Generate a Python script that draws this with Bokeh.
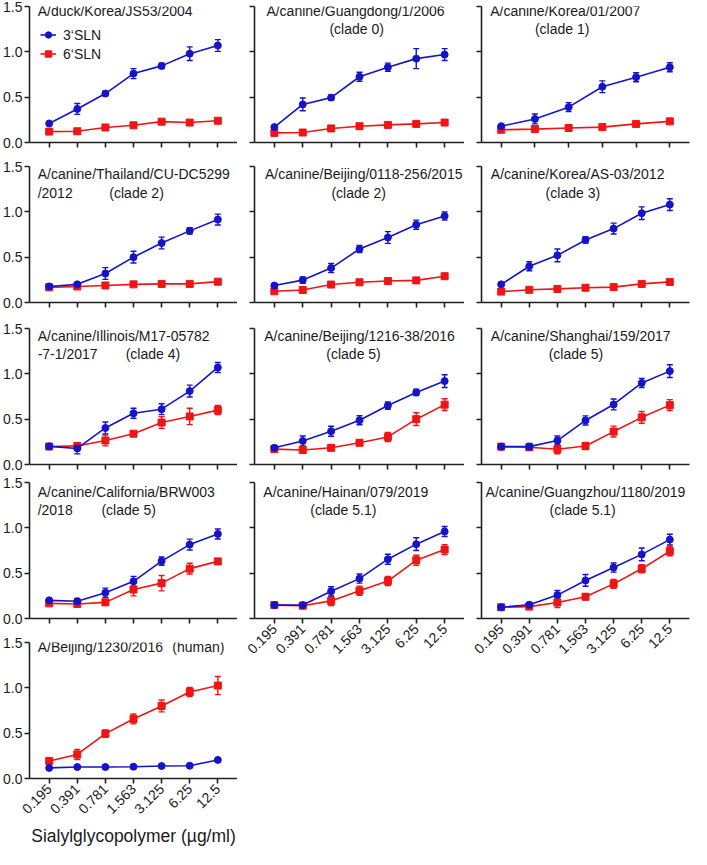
import numpy as np
from bokeh.plotting import figure
from bokeh.models import (ColumnDataSource, Whisker, TeeHead, Label, Legend,
                          LegendItem, FixedTicker, Range1d, NumeralTickFormatter)
from bokeh.layouts import row, column
from bokeh.embed import file_html
from bokeh.resources import INLINE

# ---------------- data ----------------
concentrations = ["0.195", "0.391", "0.781", "1.563", "3.125", "6.25", "12.5"]
series_names = ["3\u2018SLN", "6\u2018SLN"]
x_axis_title = "Sialylglycopolymer (\u00b5g/ml)"

duck_3 = [0.21, 0.37, 0.54, 0.76, 0.845, 0.98, 1.07]
duck_3_err = [0.015, 0.06, 0.025, 0.055, 0.03, 0.075, 0.065]
duck_6 = [0.12, 0.124, 0.166, 0.19, 0.23, 0.22, 0.24]
duck_6_err = [0.012, 0.012, 0.012, 0.012, 0.015, 0.015, 0.02]

guangdong_3 = [0.17, 0.42, 0.495, 0.725, 0.83, 0.925, 0.97]
guangdong_3_err = [0.015, 0.07, 0.03, 0.05, 0.045, 0.11, 0.065]
guangdong_6 = [0.106, 0.11, 0.155, 0.18, 0.194, 0.205, 0.22]
guangdong_6_err = [0.01, 0.01, 0.01, 0.01, 0.01, 0.01, 0.012]

korea01_3 = [0.18, 0.26, 0.39, 0.615, 0.72, 0.83]
korea01_3_err = [0.015, 0.055, 0.05, 0.065, 0.05, 0.05]
korea01_6 = [0.14, 0.148, 0.16, 0.17, 0.205, 0.233]
korea01_6_err = [0.01, 0.01, 0.01, 0.01, 0.01, 0.012]

thailand_3 = [0.177, 0.2, 0.32, 0.50, 0.656, 0.79, 0.915]
thailand_3_err = [0.012, 0.012, 0.065, 0.065, 0.065, 0.035, 0.06]
thailand_6 = [0.167, 0.177, 0.188, 0.2, 0.205, 0.205, 0.23]
thailand_6_err = [0.01, 0.01, 0.01, 0.01, 0.01, 0.01, 0.012]

beijing0118_3 = [0.187, 0.247, 0.38, 0.59, 0.717, 0.858, 0.954]
beijing0118_3_err = [0.015, 0.035, 0.05, 0.04, 0.065, 0.05, 0.045]
beijing0118_6 = [0.124, 0.138, 0.198, 0.223, 0.237, 0.244, 0.29]
beijing0118_6_err = [0.01, 0.01, 0.01, 0.01, 0.01, 0.01, 0.012]

koreaAS03_3 = [0.2, 0.4, 0.52, 0.69, 0.815, 0.985, 1.08]
koreaAS03_3_err = [0.012, 0.05, 0.07, 0.035, 0.06, 0.07, 0.065]
koreaAS03_6 = [0.12, 0.14, 0.15, 0.163, 0.17, 0.205, 0.227]
koreaAS03_6_err = [0.01, 0.01, 0.01, 0.01, 0.01, 0.012, 0.012]

illinois_3 = [0.2, 0.177, 0.403, 0.565, 0.61, 0.81, 1.07]
illinois_3_err = [0.012, 0.06, 0.065, 0.055, 0.06, 0.065, 0.055]
illinois_6 = [0.198, 0.205, 0.265, 0.34, 0.463, 0.53, 0.6]
illinois_6_err = [0.02, 0.03, 0.06, 0.025, 0.065, 0.09, 0.05]

beijing1216_3 = [0.184, 0.26, 0.367, 0.488, 0.65, 0.795, 0.92]
beijing1216_3_err = [0.015, 0.055, 0.055, 0.05, 0.04, 0.035, 0.07]
beijing1216_6 = [0.17, 0.16, 0.184, 0.24, 0.304, 0.5, 0.66]
beijing1216_6_err = [0.015, 0.035, 0.025, 0.03, 0.05, 0.07, 0.065]

shanghai_3 = [0.197, 0.197, 0.264, 0.486, 0.662, 0.9, 1.03]
shanghai_3_err = [0.012, 0.035, 0.05, 0.05, 0.06, 0.05, 0.07]
shanghai_6 = [0.197, 0.19, 0.169, 0.204, 0.363, 0.52, 0.655]
shanghai_6_err = [0.015, 0.03, 0.05, 0.04, 0.06, 0.065, 0.06]

california_3 = [0.2, 0.19, 0.285, 0.41, 0.633, 0.815, 0.932]
california_3_err = [0.012, 0.03, 0.05, 0.055, 0.045, 0.06, 0.055]
california_6 = [0.167, 0.16, 0.178, 0.32, 0.39, 0.55, 0.63]
california_6_err = [0.02, 0.035, 0.03, 0.07, 0.085, 0.06, 0.03]

hainan_3 = [0.148, 0.148, 0.30, 0.44, 0.654, 0.82, 0.96]
hainan_3_err = [0.012, 0.015, 0.05, 0.05, 0.055, 0.07, 0.055]
hainan_6 = [0.148, 0.141, 0.194, 0.307, 0.413, 0.643, 0.76]
hainan_6_err = [0.015, 0.025, 0.05, 0.05, 0.05, 0.055, 0.055]

guangzhou_3 = [0.124, 0.152, 0.258, 0.42, 0.562, 0.707, 0.87]
guangzhou_3_err = [0.012, 0.025, 0.05, 0.065, 0.05, 0.07, 0.06]
guangzhou_6 = [0.124, 0.131, 0.177, 0.24, 0.382, 0.548, 0.742]
guangzhou_6_err = [0.012, 0.02, 0.055, 0.03, 0.05, 0.045, 0.05]

human_3 = [0.117, 0.127, 0.127, 0.13, 0.138, 0.141, 0.205]
human_3_err = [0.01, 0.01, 0.01, 0.01, 0.01, 0.01, 0.012]
human_6 = [0.194, 0.265, 0.495, 0.657, 0.8, 0.954, 1.025]
human_6_err = [0.02, 0.055, 0.04, 0.055, 0.065, 0.05, 0.1]

# ---------------- style ----------------
BLUE = "#1414C8"
RED = "#F01414"
AX = "#202020"
TXT = "#1a1a1a"
FONT = "Liberation Sans"

FRAME_H = 136
COLS = [(27, 210, 0), (17, 210, 0), (17, 208, 2)]          # (left border, frame width, right border)
ROWS = [(6, 10), (14, 10), (16, 10), (8, 10), (14, 71)]   # (top, bottom)
ROW_TEXT_Y = [(1.45, 1.255), (1.415, 1.21), (1.415, 1.22), (1.39, 1.2), (1.45, 1.25)]


def hide_labels(ax):
    ax.major_label_text_font_size = "1px"
    ax.major_label_text_color = None
    ax.major_label_standoff = 0


def make_panel(col, rw, lines, s3, e3, s6, e6, xlabels=False, legend=False, axis_title=False):
    left, fw, right = COLS[col]
    top, bottom = ROWS[rw]
    if xlabels and rw == 3:
        bottom = 55
    p = figure(width=left + fw + right, height=top + FRAME_H + bottom,
               x_range=Range1d(-0.7, 6.7), y_range=Range1d(0, 1.5),
               output_backend="svg", toolbar_location=None, tools="", title=None,
               min_border_left=left, min_border_right=right,
               min_border_top=top, min_border_bottom=bottom)
    p.grid.visible = False
    p.outline_line_color = None
    p.background_fill_color = "white"
    p.border_fill_color = "white"

    n = len(s3)
    xs = list(np.linspace(0, 6, n))

    for ax in (p.xaxis[0], p.yaxis[0]):
        ax.axis_line_color = AX
        ax.axis_line_width = 1.6
        ax.major_tick_line_color = AX
        ax.major_tick_line_width = 1.6
        ax.major_tick_out = 5
        ax.major_tick_in = 0
        ax.minor_tick_line_color = None
        ax.major_label_text_font = FONT
        ax.major_label_text_color = TXT
    xa, ya = p.xaxis[0], p.yaxis[0]
    xa.ticker = FixedTicker(ticks=xs, minor_ticks=[])
    ya.ticker = FixedTicker(ticks=[0, 0.5, 1.0, 1.5], minor_ticks=[])
    ya.formatter = NumeralTickFormatter(format="0.0")
    if col == 0:
        ya.major_label_text_font_size = "14px"
        ya.major_label_standoff = 2
    else:
        hide_labels(ya)
    if xlabels:
        xa.major_label_overrides = {int(i): concentrations[i] for i in range(n)}
        xa.major_label_text_font_size = "14px"
        xa.major_label_orientation = np.pi / 4
        xa.major_label_standoff = 3
    else:
        hide_labels(xa)
    if axis_title:
        xa.axis_label = x_axis_title
        xa.axis_label_text_font = FONT
        xa.axis_label_text_font_size = "17.5px"
        xa.axis_label_text_font_style = "normal"
        xa.axis_label_text_color = TXT
        xa.axis_label_standoff = 5

    rends = []
    for vals, errs, color, marker in ((s6, e6, RED, "square"), (s3, e3, BLUE, "circle")):
        v = np.array(vals)
        e = np.array(errs)
        src = ColumnDataSource(dict(x=xs, y=v, lo=v - e, hi=v + e))
        w = Whisker(source=src, base="x", lower="lo", upper="hi", dimension="height",
                    line_color=color, line_width=1.4,
                    upper_head=TeeHead(size=6, line_color=color, line_width=1.4),
                    lower_head=TeeHead(size=6, line_color=color, line_width=1.4))
        p.add_layout(w)
        ln = p.line("x", "y", source=src, line_color=color, line_width=1.6)
        sc = p.scatter("x", "y", source=src, marker=marker, size=7,
                       fill_color=color, line_color=color)
        rends.append((ln, sc))

    y1, y2 = ROW_TEXT_Y[rw]
    for text, xpos, line_no, align in lines:
        p.add_layout(Label(x=xpos, y=y1 if line_no == 1 else y2,
                           x_units="data", y_units="data", text=text,
                           text_font=FONT, text_font_size="14px", text_color=TXT,
                           text_align=align, text_baseline="middle"))

    if legend:
        items = [LegendItem(label=series_names[0], renderers=list(rends[1])),
                 LegendItem(label=series_names[1], renderers=list(rends[0]))]
        leg = Legend(items=items, location=(11, FRAME_H - 20 - 36),
                     border_line_color=None, background_fill_alpha=0,
                     padding=0, margin=0, spacing=2,
                     glyph_width=16, glyph_height=17, label_height=17,
                     label_standoff=7, label_text_font=FONT,
                     label_text_font_size="14px", label_text_color=TXT)
        p.add_layout(leg)
    return p


p1 = make_panel(0, 0, [("A/duck/Korea/JS53/2004", -0.41, 1, "left")],
                duck_3, duck_3_err, duck_6, duck_6_err, legend=True)
p2 = make_panel(1, 0, [("A/canine/Guangdong/1/2006", 2.86, 1, "center"),
                       ("(clade 0)", 2.9, 2, "center")],
                guangdong_3, guangdong_3_err, guangdong_6, guangdong_6_err)
p3 = make_panel(2, 0, [("A/canine/Korea/01/2007", 2.28, 1, "center"),
                       ("(clade 1)", 2.17, 2, "center")],
                korea01_3, korea01_3_err, korea01_6, korea01_6_err)
p4 = make_panel(0, 1, [("A/canine/Thailand/CU-DC5299", -0.41, 1, "left"),
                       ("/2012", -0.41, 2, "left"), ("(clade 2)", 2.14, 2, "left")],
                thailand_3, thailand_3_err, thailand_6, thailand_6_err)
p5 = make_panel(1, 1, [("A/canine/Beijing/0118-256/2015", 3.15, 1, "center"),
                       ("(clade 2)", 2.97, 2, "center")],
                beijing0118_3, beijing0118_3_err, beijing0118_6, beijing0118_6_err)
p6 = make_panel(2, 1, [("A/canine/Korea/AS-03/2012", 2.72, 1, "center"),
                       ("(clade 3)", 2.55, 2, "center")],
                koreaAS03_3, koreaAS03_3_err, koreaAS03_6, koreaAS03_6_err)
p7 = make_panel(0, 2, [("A/canine/Illinois/M17-05782", -0.41, 1, "left"),
                       ("-7-1/2017", -0.41, 2, "left"), ("(clade 4)", 2.72, 2, "left")],
                illinois_3, illinois_3_err, illinois_6, illinois_6_err)
p8 = make_panel(1, 2, [("A/canine/Beijing/1216-38/2016", 3.0, 1, "center"),
                       ("(clade 5)", 2.79, 2, "center")],
                beijing1216_3, beijing1216_3_err, beijing1216_6, beijing1216_6_err)
p9 = make_panel(2, 2, [("A/canine/Shanghai/159/2017", 2.83, 1, "center"),
                       ("(clade 5)", 2.66, 2, "center")],
                shanghai_3, shanghai_3_err, shanghai_6, shanghai_6_err)
p10 = make_panel(0, 3, [("A/canine/California/BRW003", -0.41, 1, "left"),
                        ("/2018", -0.41, 2, "left"), ("(clade 5)", 1.86, 2, "left")],
                 california_3, california_3_err, california_6, california_6_err)
p11 = make_panel(1, 3, [("A/canine/Hainan/079/2019", 2.52, 1, "center"),
                        ("(clade 5.1)", 2.43, 2, "center")],
                 hainan_3, hainan_3_err, hainan_6, hainan_6_err, xlabels=True)
p12 = make_panel(2, 3, [("A/canine/Guangzhou/1180/2019", 3.0, 1, "center"),
                        ("(clade 5.1)", 2.9, 2, "center")],
                 guangzhou_3, guangzhou_3_err, guangzhou_6, guangzhou_6_err, xlabels=True)
p13 = make_panel(0, 4, [("A/Beijing/1230/2016", -0.41, 1, "left"),
                        ("(human)", 4.38, 1, "left")],
                 human_3, human_3_err, human_6, human_6_err, xlabels=True, axis_title=True)

layout = row(column(p1, p4, p7, p10, p13, spacing=0),
             column(p2, p5, p8, p11, spacing=0),
             column(p3, p6, p9, p12, spacing=0), spacing=0)

open("out.html", "w").write(file_html(layout, INLINE, title="Sialylglycopolymer binding"))
